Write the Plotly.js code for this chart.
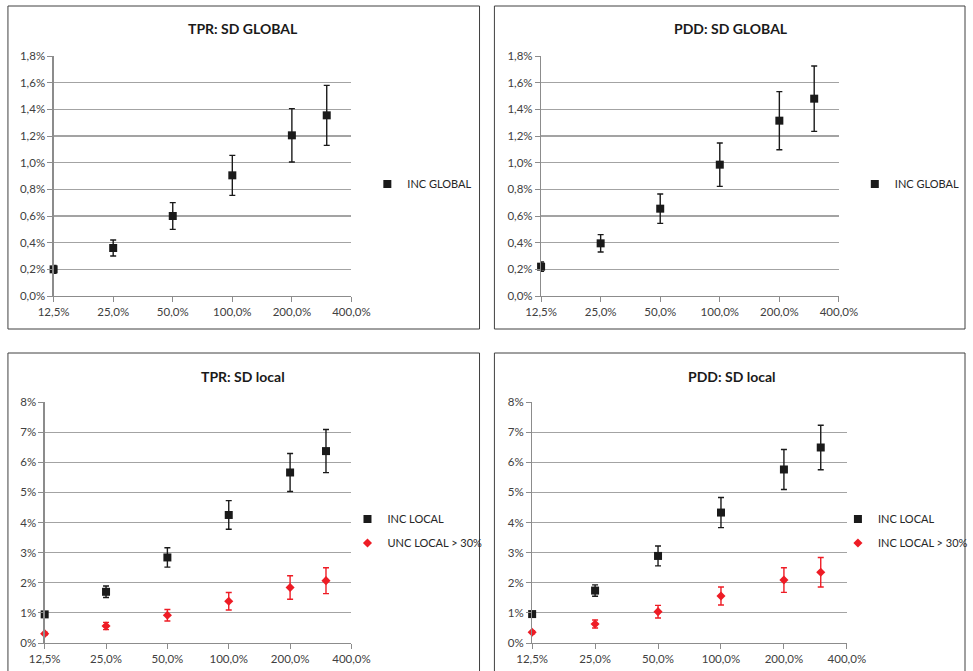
<!DOCTYPE html>
<html>
<head>
<meta charset="utf-8">
<script src="https://cdn.plot.ly/plotly-3.0.1.min.js"></script>
<style>html,body{margin:0;padding:0;background:#fff;}#chart{width:973px;height:671px;}</style>
</head>
<body>
<div id="chart"></div>
<script>
// ---- data (values in percent) ----
const xVals = [12.5, 25, 50, 100, 200, 300];
const xTickVals = [12.5, 25, 50, 100, 200, 400];
const xTickText = ['12,5%', '25,0%', '50,0%', '100,0%', '200,0%', '400,0%'];

const tprGlobal = [0.20, 0.36, 0.60, 0.905, 1.205, 1.355];
const tprGlobalErr = [0.03, 0.06, 0.10, 0.15, 0.20, 0.225];
const pddGlobal = [0.22, 0.395, 0.655, 0.985, 1.315, 1.48];
const pddGlobalErr = [0.035, 0.065, 0.11, 0.163, 0.218, 0.245];

const tprLocal = [0.95, 1.70, 2.84, 4.25, 5.66, 6.37];
const tprLocalErr = [0.05, 0.19, 0.32, 0.475, 0.63, 0.715];
const tprLocal30 = [0.31, 0.565, 0.92, 1.385, 1.84, 2.07];
const tprLocal30Err = [0.05, 0.12, 0.19, 0.29, 0.39, 0.43];

const pddLocal = [0.96, 1.74, 2.89, 4.33, 5.76, 6.49];
const pddLocalErr = [0.05, 0.19, 0.33, 0.50, 0.665, 0.74];
const pddLocal30 = [0.355, 0.63, 1.04, 1.56, 2.09, 2.35];
const pddLocal30Err = [0.05, 0.133, 0.21, 0.30, 0.41, 0.49];

const globalTickVals = [0, 0.2, 0.4, 0.6, 0.8, 1.0, 1.2, 1.4, 1.6, 1.8];
const globalTickText = ['0,0%', '0,2%', '0,4%', '0,6%', '0,8%', '1,0%', '1,2%', '1,4%', '1,6%', '1,8%'];
const localTickVals = [0, 1, 2, 3, 4, 5, 6, 7, 8];
const localTickText = ['0%', '1%', '2%', '3%', '4%', '5%', '6%', '7%', '8%'];

const titles = ['TPR: SD GLOBAL', 'PDD: SD GLOBAL', 'TPR: SD local', 'PDD: SD local'];

// ---- styling ----
const W = 973, H = 671;
const px = v => v / W;
const py = v => 1 - v / H;
const FONT = 'Lato, "Open Sans", sans-serif';
const BLACK = '#1a1a1a';
const RED = '#ee1c25';
const GRID = '#a3a3a3';

function trace(y, err, name, color, symbol, size, xa, ya, legend, group) {
  return {
    type: 'scatter', mode: 'markers', x: xVals, y: y, name: name,
    xaxis: xa, yaxis: ya, legend: legend, legendgroup: group, cliponaxis: false,
    marker: {color: color, symbol: symbol, size: size},
    error_y: {type: 'data', array: err, visible: true, color: color, thickness: 1.4, width: 3}
  };
}

const data = [
  trace(tprGlobal, tprGlobalErr, 'INC GLOBAL', BLACK, 'square', 8, 'x', 'y', 'legend', 'a'),
  trace(pddGlobal, pddGlobalErr, 'INC GLOBAL', BLACK, 'square', 8, 'x2', 'y2', 'legend2', 'b'),
  trace(tprLocal, tprLocalErr, 'INC LOCAL', BLACK, 'square', 8, 'x3', 'y3', 'legend3', 'c1'),
  trace(tprLocal30, tprLocal30Err, 'UNC LOCAL > 30%', RED, 'diamond', 7, 'x3', 'y3', 'legend3', 'c2'),
  trace(pddLocal, pddLocalErr, 'INC LOCAL', BLACK, 'square', 8, 'x4', 'y4', 'legend4', 'd1'),
  trace(pddLocal30, pddLocal30Err, 'INC LOCAL > 30%', RED, 'diamond', 7, 'x4', 'y4', 'legend4', 'd2')
];

function xaxis(x0, x1, anchor) {
  return {
    type: 'log', domain: [px(x0), px(x1)], anchor: anchor,
    range: [Math.log10(12.5), Math.log10(400)],
    tickvals: xTickVals, ticktext: xTickText,
    showgrid: false, zeroline: false, showline: true, linecolor: '#8c8c8c', linewidth: 1.2,
    ticks: 'outside', ticklen: 5, tickcolor: '#8c8c8c',
    tickfont: {family: FONT, size: 11.5, color: '#404040'}
  };
}
function yaxis(y0, y1, anchor, tv, tt) {
  return {
    domain: [py(y1), py(y0)], anchor: anchor,
    range: [tv[0], tv[tv.length - 1]], tickvals: tv, ticktext: tt,
    showgrid: true, gridcolor: GRID, gridwidth: 1.2, zeroline: false,
    showline: true, linecolor: '#8c8c8c', linewidth: 1.2,
    ticks: 'outside', ticklen: 5, tickcolor: '#8c8c8c',
    tickfont: {family: FONT, size: 11.5, color: '#404040'}
  };
}
function legend(xLeft, yc) {
  return {x: px(xLeft), y: py(yc), xanchor: 'left', yanchor: 'middle',
    bgcolor: 'rgba(0,0,0,0)', borderwidth: 0, itemwidth: 30,
    traceorder: 'grouped', tracegroupgap: 5,
    font: {family: FONT, size: 11, color: '#262626'}};
}
function title(text, x, y) {
  return {text: '<b>' + text + '</b>', xref: 'paper', yref: 'paper', x: px(x), y: py(y),
    xanchor: 'center', yanchor: 'middle', showarrow: false,
    font: {family: FONT, size: 14, color: '#1a1a1a'}};
}
function box(x0, y0, x1, y1) {
  return {type: 'rect', xref: 'paper', yref: 'paper', x0: px(x0), x1: px(x1), y0: py(y0), y1: py(y1),
    line: {color: '#404040', width: 1}, fillcolor: 'rgba(0,0,0,0)'};
}

const layout = {
  width: W, height: H, margin: {l: 0, r: 0, t: 0, b: 0},
  paper_bgcolor: '#fff', plot_bgcolor: 'rgba(0,0,0,0)', showlegend: true,
  font: {family: FONT},
  xaxis: xaxis(54, 354, 'y'),
  yaxis: yaxis(56, 296, 'x', globalTickVals, globalTickText),
  xaxis2: xaxis(545, 845, 'y2'),
  yaxis2: yaxis(56, 296, 'x2', globalTickVals, globalTickText),
  xaxis3: xaxis(45, 354, 'y3'),
  yaxis3: yaxis(402, 643, 'x3', localTickVals, localTickText),
  xaxis4: xaxis(536, 853, 'y4'),
  yaxis4: yaxis(402, 643, 'x4', localTickVals, localTickText),
  legend: legend(370, 184),
  legend2: legend(861, 184),
  legend3: legend(350, 531),
  legend4: legend(844, 531),
  annotations: [
    title(titles[0], 245, 29), title(titles[1], 736, 29),
    title(titles[2], 245, 376), title(titles[3], 737, 376)
  ],
  shapes: [box(8, 6, 483, 329), box(498, 6, 972, 329), box(8, 353, 483, 680), box(498, 353, 972, 680)]
};

Plotly.newPlot('chart', data, layout, {displayModeBar: false, staticPlot: true});
</script>
</body>
</html>
